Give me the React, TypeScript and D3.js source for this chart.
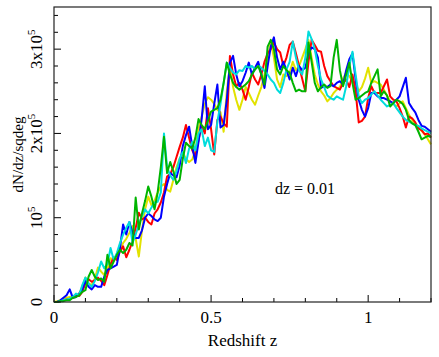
import React from 'react';
import * as d3 from 'd3';

// dN/dz per square degree, in units of 1e5, one value per dz = 0.01 bin from z = 0 to 1.2
const binWidth = 0.01;

const seriesRed = [
  0.00, 0.00, 0.01, 0.02, 0.03, 0.04, 0.05, 0.08, 0.07, 0.12,
  0.22, 0.27, 0.24, 0.26, 0.29, 0.25, 0.20, 0.32, 0.45, 0.53,
  0.50, 0.60, 0.66, 0.53, 0.62, 0.72, 0.88, 1.06, 0.98, 1.00,
  0.95, 0.92, 1.05, 1.10, 1.18, 1.30, 1.49, 1.52, 1.60, 1.72,
  1.84, 1.95, 2.10, 1.95, 1.80, 1.73, 1.92, 2.09, 2.00, 2.30,
  2.05, 1.75, 2.16, 2.20, 2.12, 2.08, 2.92, 2.70, 2.56, 2.60,
  2.52, 2.40, 2.55, 2.72, 2.64, 2.58, 2.70, 2.85, 2.95, 3.00,
  3.08, 3.00, 2.96, 2.80, 2.90, 3.05, 3.09, 2.95, 2.80, 2.65,
  2.50, 2.85, 3.11, 3.05, 2.98, 2.97, 2.80, 2.68, 2.62, 2.56,
  2.54, 2.52, 2.60, 2.64, 2.55, 2.70, 2.50, 2.13, 2.15, 2.20,
  2.42, 2.56, 2.48, 2.48, 2.48, 2.56, 2.64, 2.44, 2.40, 2.38,
  2.30, 2.20, 2.07, 2.20, 2.18, 2.13, 2.06, 2.04, 1.99, 2.00,
  1.95,
];

const seriesBlue = [
  0.00, 0.00, 0.02, 0.05, 0.08, 0.15, 0.05, 0.06, 0.10, 0.15,
  0.25, 0.18, 0.15, 0.20, 0.18, 0.18, 0.30, 0.38, 0.40, 0.42,
  0.44, 0.64, 0.92, 0.80, 0.95, 0.82, 0.76, 0.76, 0.85, 1.00,
  1.05, 1.02, 0.98, 0.96, 1.00, 1.25, 1.40, 1.53, 1.50, 1.48,
  1.62, 1.85, 1.98, 2.08, 1.85, 1.65, 1.90, 2.17, 2.56, 2.05,
  2.10, 2.35, 2.58, 2.07, 2.10, 2.40, 2.84, 2.92, 2.70, 2.56,
  2.62, 2.72, 2.84, 2.70, 2.78, 2.85, 2.70, 2.54, 2.80, 3.03,
  3.14, 2.90, 2.76, 2.85, 2.75, 2.64, 2.78, 2.68, 2.80, 2.75,
  2.78, 2.95, 3.02, 3.00, 2.90, 2.54, 2.56, 2.55, 2.58, 2.56,
  2.60, 2.62, 2.58, 2.75, 2.88, 2.95, 2.64, 2.40, 2.28, 2.20,
  2.30, 2.48, 2.48, 2.44, 2.42, 2.42, 2.40, 2.38, 2.36, 2.40,
  2.44, 2.55, 2.66, 2.36, 2.30, 2.25, 2.16, 2.09, 2.08, 2.05,
  2.02,
];

const seriesCyan = [
  0.00, 0.00, 0.01, 0.02, 0.03, 0.04, 0.06, 0.10, 0.08, 0.20,
  0.29, 0.22, 0.18, 0.25, 0.35, 0.48, 0.40, 0.45, 0.64, 0.50,
  0.58, 0.70, 0.80, 0.88, 0.95, 0.70, 0.80, 0.92, 1.02, 1.10,
  1.05, 1.12, 1.18, 1.19, 1.30, 2.00, 1.60, 1.50, 1.45, 1.55,
  1.70, 1.78, 1.65, 1.82, 1.90, 1.80, 2.00, 2.05, 1.85, 1.95,
  1.80, 1.78, 2.14, 2.35, 2.60, 2.84, 2.78, 2.72, 2.70, 2.75,
  2.74, 2.80, 2.78, 2.80, 2.76, 2.80, 2.78, 2.74, 2.70, 2.64,
  2.60, 2.52, 2.48, 2.60, 2.76, 2.85, 3.09, 2.90, 2.75, 2.70,
  2.90, 3.21, 3.12, 3.00, 2.80, 2.64, 2.55, 2.45, 2.42, 2.40,
  2.44, 2.42, 2.40, 2.56, 2.80, 2.97, 2.70, 2.44, 2.36, 2.40,
  2.42, 2.46, 2.50, 2.45, 2.40, 2.36, 2.32, 2.34, 2.36, 2.30,
  2.25, 2.20, 2.16, 2.14, 2.12, 2.10, 2.09, 2.06, 2.04, 2.02,
  2.00,
];

const seriesYellow = [
  0.00, 0.01, 0.02, 0.04, 0.05, 0.06, 0.07, 0.08, 0.10, 0.18,
  0.29, 0.22, 0.20, 0.28, 0.41, 0.36, 0.32, 0.40, 0.52, 0.50,
  0.55, 0.62, 0.70, 0.75, 0.82, 0.90, 0.75, 0.54, 0.85, 1.10,
  1.25, 1.15, 1.20, 1.30, 1.37, 1.40, 1.33, 1.31, 1.45, 1.60,
  1.70, 1.77, 1.70, 1.66, 1.69, 1.80, 2.05, 2.20, 2.35, 2.43,
  2.40, 2.35, 2.28, 2.25, 2.02, 2.50, 2.80, 2.55, 2.40, 2.28,
  2.40, 2.55, 2.48, 2.40, 2.34, 2.45, 2.55, 2.70, 2.88, 3.08,
  2.90, 2.64, 2.55, 2.70, 2.68, 2.72, 2.85, 2.75, 2.80, 2.90,
  3.00, 3.11, 2.90, 2.70, 2.58, 2.50, 2.45, 2.38, 2.42, 2.48,
  2.52, 2.55, 2.65, 2.72, 2.68, 2.62, 2.60, 2.50, 2.55, 2.65,
  2.78, 2.60, 2.62, 2.60, 2.58, 2.52, 2.45, 2.38, 2.35, 2.32,
  2.36, 2.38, 2.30, 2.22, 2.16, 2.10, 2.07, 2.03, 1.99, 1.93,
  1.87,
];

const seriesGreen = [
  0.00, 0.00, 0.01, 0.01, 0.02, 0.02, 0.05, 0.06, 0.08, 0.12,
  0.14, 0.30, 0.38, 0.30, 0.26, 0.28, 0.24, 0.56, 0.40, 0.48,
  0.56, 0.62, 0.58, 0.62, 0.70, 0.67, 1.24, 0.86, 1.05, 1.20,
  1.37, 1.25, 1.10, 1.30, 1.60, 1.96, 1.53, 1.66, 1.55, 1.40,
  1.45, 1.70, 1.89, 1.85, 1.82, 1.95, 2.17, 2.10, 2.05, 2.15,
  2.26, 2.28, 2.30, 2.40, 2.60, 2.84, 2.70, 2.60, 2.55, 2.52,
  2.55, 2.58, 2.62, 2.70, 2.76, 2.80, 2.70, 2.58, 3.03, 3.11,
  3.00, 2.76, 2.70, 2.80, 2.75, 2.72, 2.60, 2.50, 2.52, 2.50,
  2.50, 3.08, 2.85, 2.60, 2.50, 2.55, 2.58, 2.54, 2.56, 2.90,
  3.11, 2.75, 2.56, 2.70, 2.84, 2.60, 2.40, 2.42, 2.45, 2.48,
  2.50, 2.60, 2.68, 2.76, 2.44, 2.50, 2.45, 2.32, 2.36, 2.40,
  2.38, 2.35, 2.28, 2.16, 2.12, 2.10, 2.02, 1.93, 1.95, 1.97,
  1.96,
];

// drawing order: later ones sit on top
const series = [
  { name: 'yellow', color: '#e2e200', values: seriesYellow },
  { name: 'red', color: '#ff0000', values: seriesRed },
  { name: 'blue', color: '#0000ff', values: seriesBlue },
  { name: 'cyan', color: '#00dcdc', values: seriesCyan },
  { name: 'green', color: '#00b400', values: seriesGreen },
];

const xTickLabels = [
  { value: 0, label: '0' },
  { value: 0.5, label: '0.5' },
  { value: 1, label: '1' },
];

const yTickLabels = [
  { value: 0, main: '0', sup: '' },
  { value: 1, main: '10', sup: '5' },
  { value: 2, main: '2x10', sup: '5' },
  { value: 3, main: '3x10', sup: '5' },
];

const width = 439;
const height = 357;
const margin = { top: 7, right: 8, bottom: 55, left: 54 };
const font = '"Liberation Serif", "Times New Roman", serif';

const App = () => {
  const innerW = width - margin.left - margin.right;
  const innerH = height - margin.top - margin.bottom;

  const x = d3.scaleLinear().domain([0, 1.2]).range([margin.left, margin.left + innerW]);
  const y = d3.scaleLinear().domain([0, 3.5]).range([margin.top + innerH, margin.top]);

  const line = d3.line<number>()
    .x((d, i) => x(i * binWidth))
    .y(d => y(d));

  const xMinor = x.ticks(12);
  const yMinor = y.ticks(17);
  const bottom = y(0);
  const left = x(0);

  return (
    <svg width={width} height={height} style={{ position: 'fixed', left: 0, top: 0, background: '#fff' }}>
      <rect x={0} y={0} width={width} height={height} fill="#fff" />

      {series.map(s => (
        <path key={s.name} d={line(s.values) || ''} fill="none" stroke={s.color}
          strokeWidth={2} strokeLinejoin="round" />
      ))}

      {/* inside ticks */}
      {xMinor.map(t => {
        const major = xTickLabels.some(l => Math.abs(l.value - t) < 1e-9);
        return <line key={'xt' + t} x1={x(t)} x2={x(t)} y1={bottom} y2={bottom - (major ? 7 : 4)} stroke="#000" />;
      })}
      {yMinor.map(t => {
        const major = yTickLabels.some(l => Math.abs(l.value - t) < 1e-9);
        return <line key={'yt' + t} x1={left} x2={left + (major ? 7 : 4)} y1={y(t)} y2={y(t)} stroke="#000" />;
      })}

      <rect x={margin.left} y={margin.top} width={innerW} height={innerH} fill="none" stroke="#222" strokeWidth={1.2} />

      {xTickLabels.map(t => (
        <text key={'xl' + t.label} x={x(t.value)} y={323} textAnchor="middle"
          fontFamily={font} fontSize={17} fill="#000">{t.label}</text>
      ))}

      {yTickLabels.map(t => (
        <text key={'yl' + t.value} transform={`translate(42,${y(t.value)}) rotate(-90)`} textAnchor="middle"
          fontFamily={font} fontSize={17} fill="#000">
          {t.main}
          {t.sup && <tspan dy={-7} fontSize={11}>{t.sup}</tspan>}
        </text>
      ))}

      <text x={x(0.6)} y={346} textAnchor="middle" fontFamily={font} fontSize={17} fill="#000">Redshift z</text>
      <text transform={`translate(23,${(margin.top + bottom) / 2}) rotate(-90)`} textAnchor="middle"
        fontFamily={font} fontSize={15} fill="#000">dN/dz/sqdeg</text>

      <text x={305} y={194} textAnchor="middle" fontFamily={font} fontSize={16} fill="#000">dz = 0.01</text>
    </svg>
  );
};

export default App;
